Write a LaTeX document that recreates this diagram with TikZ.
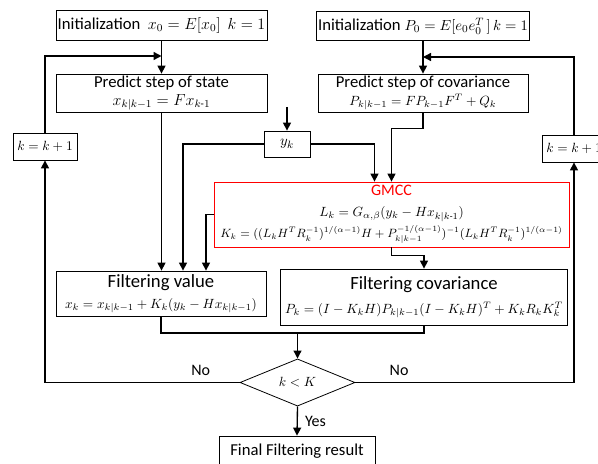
\documentclass[tikz,border=0pt]{standalone}
\usepackage{amsmath}
\usepackage{fontspec}
\setmainfont{Carlito}
\usetikzlibrary{shapes.geometric,arrows.meta,calc}
\newcommand{\fsz}[2]{\fontsize{#1}{#2}\selectfont}

\begin{document}
\begin{tikzpicture}[x=0.75pt,y=-0.75pt,line width=1pt,
		wh/.style 2 args={minimum width=#1*0.75pt,minimum height=#2*0.75pt},
		main node/.style={rectangle,draw,line width=0.6pt,align=center,inner sep=1pt,font=\fsz{12.5}{13.5}},
		arr/.style={-{Triangle[length=6pt,width=6pt]}},
		lbl/.style={font=\fsz{12}{12}}]
	
	\useasboundingbox (0,0) rectangle (598,463);
	
	\node[main node,wh={211}{30}] at (161.5,25.5) (initx) {Initialization \ {\fsz{11.5}{12}$x_0 = E[x_0]$ \ $k=1$}};
	\node[main node,wh={210}{29}] at (423,26) (initp) {Initialization {\fsz{11}{12}$P_0 = E[e_0e_0^T\,]\,k=1$}};
	\node[main node,wh={211}{38}] at (161.5,93) (predx) {Predict step of state\\ {\fsz{11.5}{13.5}$x_{k|k-1} = Fx_{k\text{-}1}$}};
	\node[main node,wh={210}{38}] at (423,93) (predp) {Predict step of covariance\\ {\fsz{10}{13.5}$P_{k|k-1} = FP_{k-1}F^T + Q_k$}};
	\node[main node,font=\fsz{10}{12},wh={64}{27}] at (45,146.5) (kl) {$k=k+1$};
	\node[main node,font=\fsz{10}{12},wh={64}{27}] at (574,148.5) (kr) {$k=k+1$};
	\node[main node,font=\fsz{11}{12},wh={46}{26}] at (287,144) (yk) {$y_k$};
	\node[main node,draw=red,font=\fsz{12}{15.7},wh={355}{65}] at (391.5,214.5) (gmcc) {\textcolor{red}{GMCC}\\
		{\fsz{9.8}{15.7}$L_k = G_{\alpha,\beta}(y_k - Hx_{k|k\text{-}1})$}\\
		{\fsz{9.1}{15.7}$K_k = ((L_kH^TR_k^{-1})^{1/(\alpha-1)}H + P_{k|k-1}^{-1/(\alpha-1)})^{-1}(L_kH^TR_k^{-1})^{1/(\alpha-1)}$}};
	\node[main node,font=\fsz{14}{15.7},wh={210}{45}] at (161,293.5) (fval) {Filtering value\\ {\fsz{10}{15.7}$x_k = x_{k|k-1} + K_k(y_k - Hx_{k|k-1})$}};
	\node[main node,font=\fsz{14}{18},wh={287}{56}] at (424,297) (fcov) {Filtering covariance\\ {\fsz{10.3}{18}$P_k = (I - K_kH)P_{k|k-1}(I - K_kH)^T + K_kR_kK_k^{T}$}};
	\node[main node,diamond,font=\fsz{10}{12},inner sep=0pt,wh={115}{41}] at (297.5,382.5) (dia) {$k<K$};
	\node[main node,wh={156}{30}] at (297,451) (final) {Final Filtering result};
	
	\coordinate (jl) at (161.5,56);
	\coordinate (jr) at (423,57);
	\coordinate (ytop) at (287,107);
	\coordinate (mid) at (297.5,333);
	
	\draw[arr] (initx) -- (predx);
	\draw[arr] (initp) -- (predp);
	\draw[arr] (kl.north) |- (jl);
	\draw[arr] (kr.north) |- (jr);
	\draw[arr] (ytop) -- (yk.north);
	\draw[arr] (predx.south) -- (predx.south |- fval.north);
	\draw[arr] (yk.west) -| ($(fval.north)+(22,0)$);
	\draw[arr] (yk.east) -| ($(gmcc.north)+(-17,0)$);
	\draw[arr] (predp.south) -- ++(0,16) -| (gmcc.north);
	\draw[arr] (gmcc.west) -| ($(fval.north)+(45,0)$);
	\draw[arr] (gmcc.south) -- ++(0,8) -| (fcov.north);
	\draw (fval.south) |- (mid) -| (fcov.south);
	\draw[arr] (mid) -- (dia.north);
	\draw[arr] (dia.west) -| node[lbl,pos=0.1,above=1pt] {No} (kl.south);
	\draw[arr] (dia.east) -| node[lbl,pos=0.1,above=1pt] {No} (kr.south);
	\draw[arr] (dia.south) -- node[lbl,right=2pt] {Yes} (final.north);
	
\end{tikzpicture}
\end{document}
